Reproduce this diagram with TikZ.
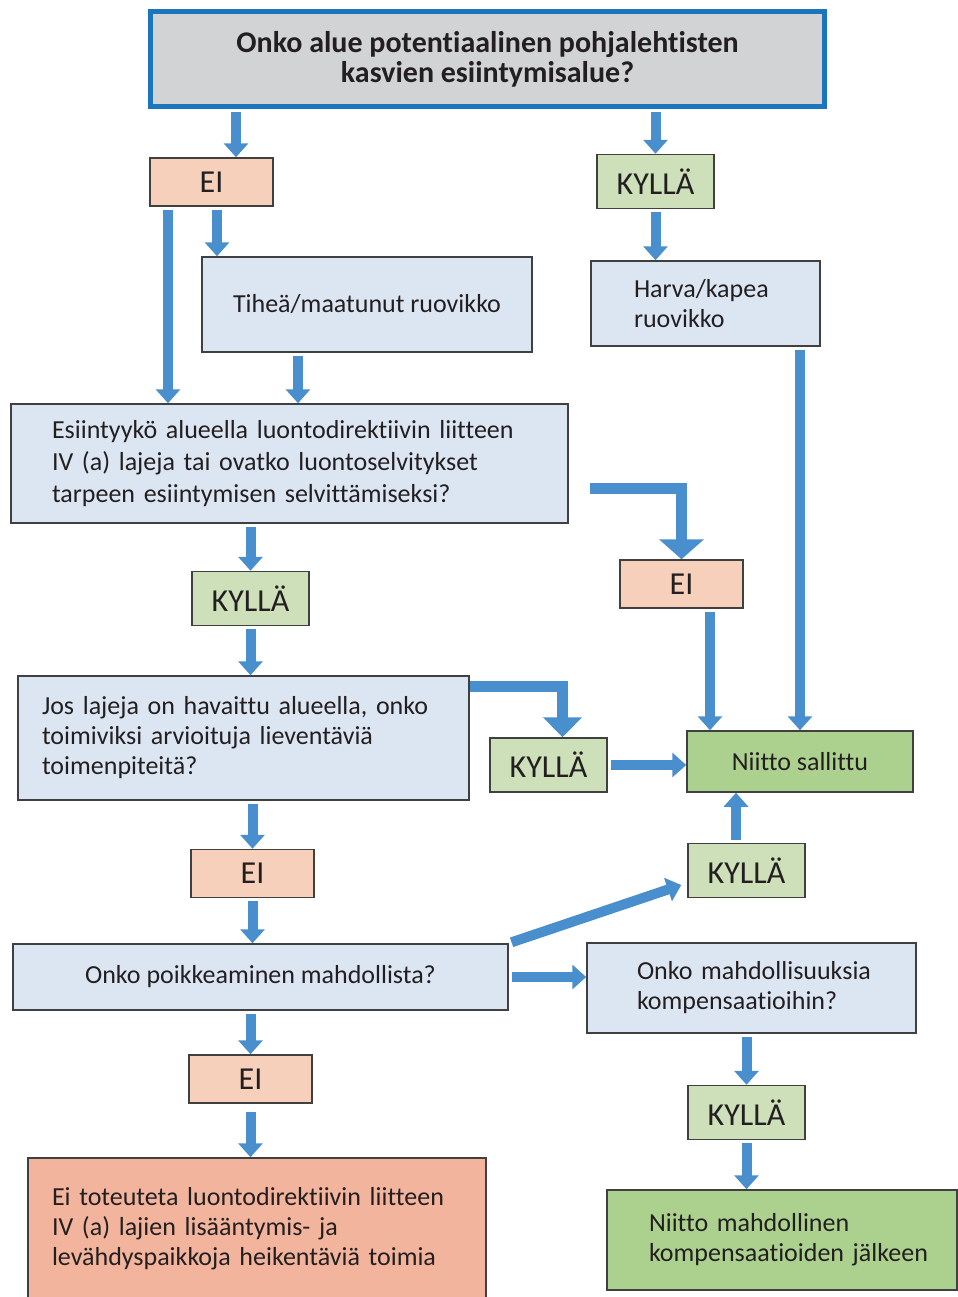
\documentclass[tikz,border=0pt]{standalone}
\usepackage{fontspec}
\setmainfont{Carlito}[Ligatures=CommonOff]
\usetikzlibrary{arrows.meta,calc}

\definecolor{flowblue}{HTML}{4A8FCD}
\definecolor{topblue}{HTML}{1B75BC}
\definecolor{topgray}{HTML}{D2D3D5}
\definecolor{eifill}{HTML}{F6D0BB}
\definecolor{kylfill}{HTML}{CDE0BA}
\definecolor{qfill}{HTML}{DCE6F2}
\definecolor{okfill}{HTML}{ACD08E}
\definecolor{stopfill}{HTML}{F2B49C}
\definecolor{ink}{HTML}{231F20}

\begin{document}
\begin{tikzpicture}[x=0.5pt,y=-0.5pt,
  every node/.style={font=\fontsize{13}{15}\selectfont, text=ink},
  box/.style={draw=black!75, line width=0.75pt, rectangle, inner sep=0pt},
  ei/.style={box, fill=eifill, minimum width=61.5pt, minimum height=24pt, font=\fontsize{16}{18}\selectfont},
  kylla/.style={box, fill=kylfill, minimum width=58.5pt, minimum height=27pt, font=\fontsize{16}{18}\selectfont},
  question/.style={box, fill=qfill},
  flow/.style={draw=flowblue, line width=5pt, shorten <=1.5pt, -{Triangle[width=12pt,length=7pt]}},
  bigflow/.style={draw=flowblue, line width=5.5pt, line join=miter, -{Triangle[width=19pt,length=10pt]}}]
\useasboundingbox[fill=white] (0,0) rectangle (958,1297);

% boxes
\node[draw=topblue, line width=2.5pt, fill=topgray, minimum width=337pt, minimum height=47.5pt, align=center, font=\fontsize{15}{15}\selectfont\bfseries] (top) at (487.5,59) {Onko alue potentiaalinen pohjalehtisten\\kasvien esiintymisalue?};
\node[ei] (ei1) at (211.5,182) {EI};
\node[kylla] (kyl1) at (655.5,181.5) {KYLLÄ};
\node[question, minimum width=165pt, minimum height=47.5pt] (tih) at (367,304.5) {Tiheä/maatunut ruovikko};
\node[question, minimum width=114.5pt, minimum height=42.5pt, text width=71.5pt, align=left] (harva) at (705.5,303.5) {Harva/kapea\\ruovikko};
\node[question, minimum width=278.5pt, minimum height=59.5pt, text width=237.5pt, align=left, font=\fontsize{13}{16}\selectfont] (esi) at (289.5,463.5) {Esiintyykö alueella luontodirektiivin liitteen\\IV (a) lajeja tai ovatko luontoselvitykset\\tarpeen esiintymisen selvittämiseksi?};
\node[kylla] (kyl2) at (250.5,598.5) {KYLLÄ};
\node[ei] (ei2) at (681.5,584) {EI};
\node[question, minimum width=225.5pt, minimum height=62pt, text width=201.5pt, align=left] (jos) at (243.5,738) {Jos lajeja on havaittu alueella, onko\\toimiviksi arvioituja lieventäviä\\toimenpiteitä?};
\node[kylla] (kyl3) at (548.5,765) {KYLLÄ};
\node[box, fill=okfill, minimum width=113pt, minimum height=30.5pt] (sallittu) at (800,761.5) {Niitto sallittu};
\node[ei] (ei3) at (252.5,873.5) {EI};
\node[kylla] (kyl4) at (746.5,870.5) {KYLLÄ};
\node[question, minimum width=247.5pt, minimum height=33pt] (poik) at (260.5,977) {Onko poikkeaminen mahdollista?};
\node[question, minimum width=164.5pt, minimum height=45pt, text width=114.5pt, align=left] (komp) at (751.5,988) {\mbox{Onko mahdollisuuksia}\\\mbox{kompensaatioihin?}};
\node[kylla] (kyl5) at (746.5,1112.5) {KYLLÄ};
\node[box, fill=okfill, minimum width=175pt, minimum height=50pt, text width=133pt, align=left] (mahd) at (782,1240) {\mbox{Niitto mahdollinen}\\\mbox{kompensaatioiden jälkeen}};
\node[ei] (ei4) at (250.5,1079) {EI};
\node[box, fill=stopfill, minimum width=229pt, minimum height=71pt, text width=205pt, align=left] (eitot) at (257,1229) {Ei toteuteta luontodirektiivin liitteen\\IV (a) lajien lisääntymis- ja\\levähdyspaikkoja heikentäviä toimia};

% arrows
\draw[flow] ([xshift=12.25pt]ei1.north |- top.south) -- ([xshift=12.25pt]ei1.north);
\draw[flow] (kyl1.north |- top.south) -- (kyl1.north);
\draw[flow] ([xshift=2.75pt]ei1.south) -- ([xshift=2.75pt]ei1.south |- tih.north);
\draw[flow] ([xshift=-21.75pt]ei1.south) -- ([xshift=-21.75pt]ei1.south |- esi.north);
\draw[flow] ([xshift=-34.5pt]tih.south) -- ([xshift=-34.5pt]tih.south |- esi.north);
\draw[flow] (kyl1.south) -- (kyl1.south |- harva.north);
\draw[flow] (sallittu.north |- harva.south) -- (sallittu.north);
\draw[flow] (kyl2.north |- esi.south) -- (kyl2.north);
\draw[bigflow, -{Triangle[width=22pt,length=10pt]}] ([xshift=10.5pt,yshift=-12.25pt]esi.east) -| (ei2.north);
\draw[flow] ([xshift=14.25pt]ei2.south) -- ([xshift=14.25pt]ei2.south |- sallittu.north);
\draw[flow] (kyl2.south) -- (kyl2.south |- jos.north);
\draw[bigflow] ([yshift=-5.5pt]jos.north east) -| ([xshift=7pt]kyl3.north);
\draw[flow] (kyl3.east) -- (kyl3.east -| sallittu.west);
\draw[flow] (ei3.north |- jos.south) -- (ei3.north);
\draw[flow] (ei3.south) -- (ei3.south |- poik.north);
\draw[flow] ([xshift=-5.25pt]kyl4.north) -- ([xshift=-5.25pt]kyl4.north |- sallittu.south);
\draw[flow] (poik.north east) -- ([xshift=-3pt,yshift=-7.25pt]kyl4.west);
\draw[flow] (poik.east) -- (poik.east -| komp.west);
\draw[flow] (kyl5.north |- komp.south) -- (kyl5.north);
\draw[flow] (kyl5.south) -- (kyl5.south |- mahd.north);
\draw[flow] (ei4.north |- poik.south) -- (ei4.north);
\draw[flow, shorten <=4pt] (ei4.south) -- (ei4.south |- eitot.north);
\end{tikzpicture}
\end{document}
